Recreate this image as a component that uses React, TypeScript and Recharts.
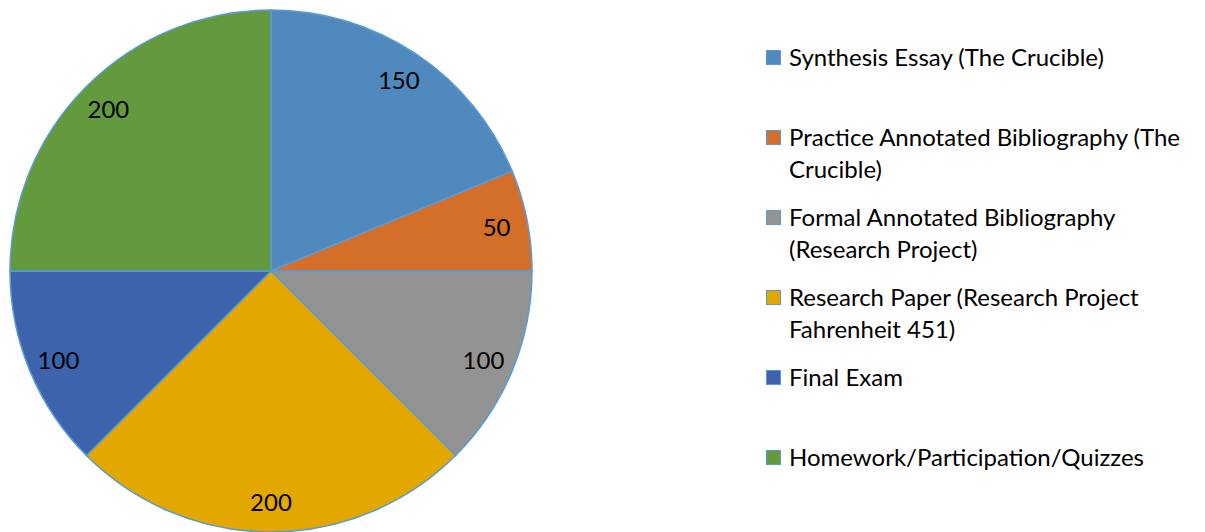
import { Cell, Legend, Pie, PieChart } from 'recharts'

const categories = [
  'Synthesis Essay (The Crucible)',
  'Practice Annotated Bibliography (The Crucible)',
  'Formal Annotated Bibliography (Research Project)',
  'Research Paper (Research Project Fahrenheit 451)',
  'Final Exam',
  'Homework/Participation/Quizzes',
]
const points = [150, 50, 100, 200, 100, 200]
const colors = ['#4F89BD', '#D46F2A', '#939393', '#E3A800', '#3D63AD', '#639A3D']

const data = categories.map((name, i) => ({ name, value: points[i] }))

const FONT = 'Lato, "Open Sans", sans-serif'
const RAD = Math.PI / 180

function renderLabel(props: any) {
  const { cx, cy, midAngle, value } = props
  const r = 230
  const x = cx + r * Math.cos(-midAngle * RAD)
  const y = cy + r * Math.sin(-midAngle * RAD)
  return (
    <text x={x} y={y} fill="#000" fontSize={24} fontFamily={FONT}
      textAnchor="middle" dominantBaseline="central">
      {value}
    </text>
  )
}

function LegendBox() {
  return (
    <div style={{ fontFamily: FONT, fontSize: 24, color: '#000' }}>
      {data.map((d, i) => (
        <div key={d.name} style={{ display: 'flex', height: 80, alignItems: 'flex-start' }}>
          <div style={{
            width: 13, height: 13, marginTop: 9, flex: 'none',
            background: colors[i], border: '1px solid #5B9BD5',
          }} />
          <div style={{ marginLeft: 8, width: 410, lineHeight: '32px' }}>{d.name}</div>
        </div>
      ))}
    </div>
  )
}

export default function App() {
  return (
    <div style={{ position: 'absolute', left: 0, top: 0, background: '#fff' }}>
      <PieChart width={1205} height={532} margin={{ top: 0, right: 0, bottom: 0, left: 0 }}>
        <Pie
          data={data} dataKey="value" nameKey="name"
          cx={271} cy={271} outerRadius={261}
          startAngle={90} endAngle={-270}
          stroke="#5B9BD5" strokeWidth={1.5}
          label={renderLabel} labelLine={false}
          isAnimationActive={false}
        >
          {data.map((d, i) => <Cell key={d.name} fill={colors[i]} />)}
        </Pie>
        <Legend
          layout="vertical" align="right" verticalAlign="top"
          content={() => <LegendBox />}
          wrapperStyle={{ left: 766, top: 41, width: 430 }}
        />
      </PieChart>
    </div>
  )
}
